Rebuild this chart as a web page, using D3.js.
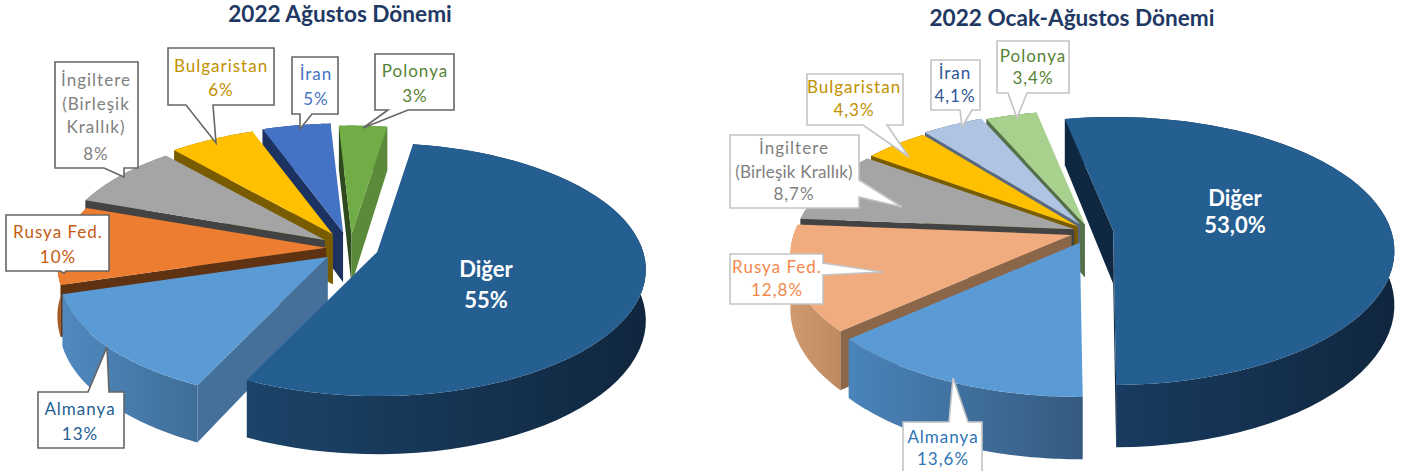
<!DOCTYPE html>
<html>
<head>
<meta charset="utf-8">
<script src="https://cdn.jsdelivr.net/npm/d3@7"></script>
<style>
	html, body { margin: 0; padding: 0; background: #fff; }
	svg { display: block; }
	text { font-family: Lato, "Open Sans", sans-serif; text-anchor: middle; }
</style>
</head>
<body>
<div id="chart"></div>
<script>
// data
const categories = ['Diğer', 'Almanya', 'Rusya Fed.', 'İngiltere', 'Bulgaristan', 'İran', 'Polonya'];
const valuesAugust = [54.6, 13.3, 10.1, 8.1, 5.9, 4.7, 3.3]; // labels show them rounded
const valuesJanAug = [53.0, 13.6, 12.8, 8.7, 4.3, 4.1, 3.4];
const titleAugust = '2022 Ağustos Dönemi';
const titleJanAug = '2022 Ocak-Ağustos Dönemi';
const labelLinesAugust = [['Diğer'], ['Almanya'], ['Rusya Fed.'], ['İngiltere', '(Birleşik', 'Krallık)'], ['Bulgaristan'], ['İran'], ['Polonya']];
const labelLinesJanAug = [['Diğer'], ['Almanya'], ['Rusya Fed.'], ['İngiltere', '(Birleşik Krallık)'], ['Bulgaristan'], ['İran'], ['Polonya']];

// layout of the two pies
const layoutAugust = {
	title: titleAugust, titleX: 340, titleY: 22,
	cx: 350, cy: 248, rx: 266, ry: 124, persp: 0.14, depth: 50, start: 8.8,
	explode: [0.107, 0.11, 0.09, 0.114, 0.126, 0.13, 0.11],
	tops: ['#255e91', '#5b9bd5', '#ed7d31', '#a5a5a5', '#ffc000', '#4472c4', '#70ad47'],
	walls: ['#1a426a', '#44709a', '#5f3212', '#434343', '#7a5c00', '#1c3260', '#2f4a1e'],
	curve: [['#1b4469', '#10263e'], ['#5089c0', '#3f6e97'], ['#a8561f', '#a8561f'], ['#5e5e5e', '#5e5e5e'], ['#7a5c00', '#7a5c00'], ['#1c3260', '#1c3260'], ['#5a8a3a', '#5a8a3a']],
	border: '#666666',
	textColor: ['#fff', '#255e91', '#c55a11', '#7f7f7f', '#bf9000', '#4472c4', '#548235'],
	// x0, x1, y0, y1, pointer base a, tip, pointer base b
	boxes: [
		null,
		[38, 124, 392, 448, [88, 392], [107, 347], [109, 392]],
		[6, 109, 215, 271, [60, 271], [64, 273], [66, 271]],
		[55, 138, 62, 168, [104, 168], [124, 177], [124, 168]],
		[168, 274, 48, 105, [186, 105], [216, 143], [213, 105]],
		[292, 338, 57, 114, [300, 114], [300, 129], [312, 114]],
		[375, 454, 54, 110, [388, 110], [363, 128], [408, 110]]
	],
	textY: [[277, 308], [415, 440], [238, 263], [86, 110, 133, 160], [72, 96], [80, 105], [77, 102]],
	textX: [486, 80, 58, 96, 221, 316, 415],
	format: d => d3.format('.0f')(d) + '%'
};

const layoutJanAug = {
	title: titleJanAug, titleX: 1072, titleY: 26,
	cx: 1090, cy: 232, rx: 278, ry: 131, persp: 0.15, depth: 53, start: -11.5,
	explode: [0.084, 0.09, 0.07, 0.06, 0.06, 0.07, 0.06],
	tops: ['#255e91', '#5b9bd5', '#f0ab7e', '#a5a5a5', '#ffc000', '#afc3e3', '#a9d18e'],
	walls: ['#0f2740', '#44709a', '#8c6648', '#434343', '#7a5c00', '#5a6880', '#56704a'],
	curve: [['#1a3f66', '#10263e'], ['#4a84bb', '#355a7e'], ['#d09a70', '#c08a60'], ['#5e5e5e', '#5e5e5e'], ['#7a5c00', '#7a5c00'], ['#5a6880', '#5a6880'], ['#56704a', '#56704a']],
	border: '#c4c4c4',
	textColor: ['#fff', '#2e75b6', '#f4874b', '#7f7f7f', '#bf9000', '#2f5597', '#548235'],
	boxes: [
		null,
		[903, 982, 422, 480, [949, 422], [953, 378], [968, 422]],
		[730, 823, 254, 304, [823, 263], [883, 272], [823, 275]],
		[730, 859, 135, 208, [859, 180], [902, 207], [859, 197]],
		[807, 903, 74, 125, [863, 125], [909, 157], [887, 125]],
		[931, 980, 60, 110, [960, 110], [962, 127], [972, 110]],
		[997, 1069, 41, 93, [1008, 93], [1017, 118], [1027, 93]]
	],
	textY: [[206, 233], [443, 465], [273, 296], [154, 178, 200], [93, 116], [79, 102], [62, 84]],
	textX: [1235, 943, 777, 794, 854, 955, 1033],
	format: d => d.toFixed(1).replace('.', ',') + '%'
};

const width = 1408;
const height = 471;
const svg = d3.select('#chart').append('svg').attr('width', width).attr('height', height);
const defs = svg.append('defs');

function drawPie(values, lines, opt, id) {
	const rad = Math.PI / 180;
	const pie = d3.pie().sort(null)
		.startAngle(opt.start * rad)
		.endAngle((opt.start + 360) * rad);
	const arcs = pie(values);
	const sx = d3.scaleLinear().domain([-1, 1]).range([-opt.rx, opt.rx]);
	const sy = d3.scaleLinear().domain([-1, 1]).range([-opt.ry, opt.ry]);
	const line = d3.line();
	const g = svg.append('g');

	// projects a point of the disc, v grows toward the viewer
	function project(d, i, angle, r, drop) {
		const mid = (d.startAngle + d.endAngle) / 2;
		const ox = opt.cx + sx(opt.explode[i] * Math.sin(mid));
		const oy = opt.cy + sy(-opt.explode[i] * Math.cos(mid));
		const u = r * Math.sin(angle);
		const v = -r * Math.cos(angle);
		const f = 1 / (1 - opt.persp * v);
		return [ox + sx(u) * f, oy + sy(v) * f + drop * opt.depth * f];
	}

	// back slices first, Diğer last
	d3.range(arcs.length - 1, -1, -1).forEach(i => {
		const d = arcs[i];
		const steps = d3.range(0, 61).map(k => d.startAngle + (d.endAngle - d.startAngle) * k / 60);
		const top = steps.map(a => project(d, i, a, 1, 0));
		const bottom = steps.map(a => project(d, i, a, 1, 1)).reverse();
		const apex = project(d, i, 0, 0, 0);
		const apexLow = project(d, i, 0, 0, 1);

		const gradId = 'grad' + id + i;
		const ext = d3.extent(top, p => p[0]);
		const grad = defs.append('linearGradient').attr('id', gradId)
			.attr('gradientUnits', 'userSpaceOnUse')
			.attr('x1', ext[0]).attr('x2', ext[1]).attr('y1', 0).attr('y2', 0);
		grad.append('stop').attr('offset', 0).attr('stop-color', opt.curve[i][0]);
		grad.append('stop').attr('offset', 1).attr('stop-color', opt.curve[i][1]);

		// rim
		g.append('path')
			.attr('d', line(top.concat(bottom)) + 'Z')
			.attr('fill', 'url(#' + gradId + ')');
		// the cut faces, only when they look toward the viewer
		if (Math.sin(d.startAngle) < 0) {
			g.append('path')
				.attr('d', line([apex, top[0], bottom[60], apexLow]) + 'Z')
				.attr('fill', opt.walls[i]);
		}
		if (Math.sin(d.endAngle) > 0) {
			g.append('path')
				.attr('d', line([apex, top[60], bottom[0], apexLow]) + 'Z')
				.attr('fill', opt.curve[i][1]);
		}
		// top
		g.append('path')
			.attr('d', line([apex].concat(top)) + 'Z')
			.attr('fill', opt.tops[i]);
	});

	g.append('text')
		.attr('x', opt.titleX).attr('y', opt.titleY)
		.attr('font-size', 22.6).attr('font-weight', 700).attr('fill', '#1f3864')
		.text(opt.title);

	// callouts
	opt.boxes.forEach((b, i) => {
		if (!b) return;
		const outline = [[b[0], b[2]], [b[1], b[2]], [b[1], b[3]], [b[0], b[3]]];
		// pointer is spliced into the side it sits on
		let pts;
		if (b[4][1] === b[3]) {
			pts = [outline[0], outline[1], outline[2], b[6], b[5], b[4], outline[3]];
		} else if (b[4][1] === b[2]) {
			pts = [outline[0], b[4], b[5], b[6], outline[1], outline[2], outline[3]];
		} else {
			pts = [outline[0], outline[1], b[4], b[5], b[6], outline[2], outline[3]];
		}
		g.append('path')
			.attr('d', line(pts) + 'Z')
			.attr('fill', '#fff')
			.attr('stroke', opt.border)
			.attr('stroke-width', 1.6);
	});

	// texts
	categories.forEach((c, i) => {
		const rows = lines[i].concat([opt.format(values[i])]);
		rows.forEach((t, k) => {
			g.append('text')
				.attr('x', opt.textX[i])
				.attr('y', opt.textY[i][k])
				.attr('font-size', i === 0 ? 22 : 17)
				.attr('font-weight', i === 0 ? 700 : 400)
				.attr('letter-spacing', i === 0 ? 0 : (t.length > 12 ? 0.2 : 1))
				.attr('fill', opt.textColor[i])
				.text(t);
		});
	});
}

drawPie(valuesAugust, labelLinesAugust, layoutAugust, 'a');
drawPie(valuesJanAug, labelLinesJanAug, layoutJanAug, 'b');
</script>
</body>
</html>
